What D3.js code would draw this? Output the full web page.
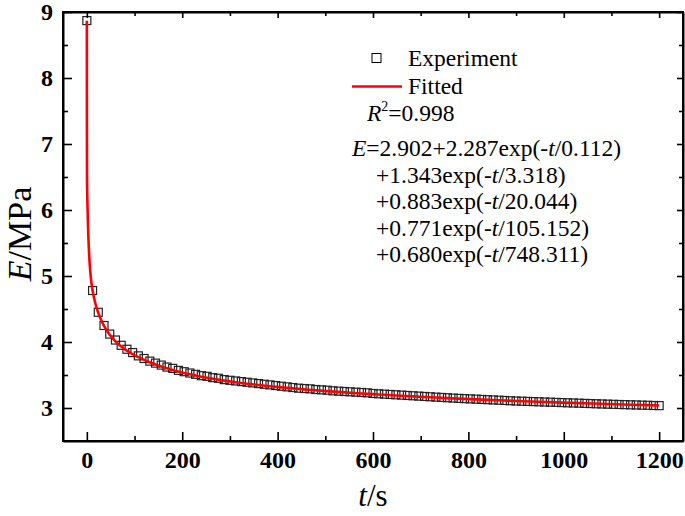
<!DOCTYPE html>
<html><head><meta charset="utf-8">
<script src="https://cdn.jsdelivr.net/npm/d3@7"></script>
<style>body{margin:0;background:#fff} svg{display:block}</style>
</head><body><svg id="c" width="685" height="516"></svg>
<script>
// ---- data ----
const expT = [0,12,24,36,48,60,72,84,96,108,120,132,144,156,168,180,192,204,216,228,240,252,264,276,288,300,312,324,336,348,360,372,384,396,408,420,432,444,456,468,480,492,504,516,528,540,552,564,576,588,600,612,624,636,648,660,672,684,696,708,720,732,744,756,768,780,792,804,816,828,840,852,864,876,888,900,912,924,936,948,960,972,984,996,1008,1020,1032,1044,1056,1068,1080,1092,1104,1116,1128,1140,1152,1164,1176,1188,1200];
const expE = [8.87,4.78,4.45,4.25,4.12,4.03,3.95,3.89,3.84,3.79,3.75,3.71,3.68,3.65,3.62,3.60,3.57,3.55,3.53,3.51,3.49,3.48,3.46,3.45,3.43,3.42,3.41,3.40,3.39,3.38,3.37,3.36,3.35,3.34,3.33,3.32,3.31,3.30,3.295,3.29,3.28,3.275,3.27,3.26,3.255,3.25,3.245,3.24,3.235,3.23,3.22,3.215,3.21,3.205,3.20,3.195,3.19,3.185,3.18,3.175,3.17,3.165,3.16,3.155,3.15,3.146,3.142,3.138,3.134,3.13,3.126,3.122,3.118,3.114,3.11,3.106,3.103,3.10,3.097,3.094,3.091,3.088,3.085,3.082,3.079,3.076,3.073,3.070,3.067,3.064,3.061,3.058,3.056,3.053,3.051,3.048,3.046,3.043,3.041,3.038,3.036];
const fitT = [0,0.1,0.2,0.4,0.7,1,1.5,2,3,4,5,6,8,10,12,15,20,24,30,36,48,60,72,84,96,108,120,132,144,156,168,180,192,204,216,228,240,264,288,312,336,360,384,408,432,456,480,504,540,576,612,648,684,720,756,792,828,864,900,948,996,1044,1092,1140,1200];
const fitE = [8.866,7.470,6.873,6.470,6.292,6.178,6.015,5.871,5.633,5.446,5.298,5.180,5.002,4.876,4.780,4.670,4.530,4.442,4.333,4.244,4.109,4.010,3.933,3.870,3.817,3.771,3.730,3.693,3.660,3.629,3.602,3.576,3.552,3.531,3.510,3.492,3.474,3.443,3.415,3.390,3.368,3.348,3.329,3.312,3.297,3.282,3.268,3.255,3.237,3.220,3.205,3.190,3.176,3.163,3.150,3.138,3.127,3.117,3.106,3.094,3.082,3.071,3.060,3.050,3.039];
const xTicks = [0,200,400,600,800,1000,1200];
const xMinorTicks = [100,300,500,700,900,1100];
const yTicks = [3,4,5,6,7,8,9];
const yMinorTicks = [3.5,4.5,5.5,6.5,7.5,8.5];
const legendLabels = ["Experiment","Fitted"];
const r2Text = "0.998";
const eqLines = [
  [["E","i"],["=2.902+2.287exp(-",""],["t","i"],["/0.112)",""]],
  [["+1.343exp(-",""],["t","i"],["/3.318)",""]],
  [["+0.883exp(-",""],["t","i"],["/20.044)",""]],
  [["+0.771exp(-",""],["t","i"],["/105.152)",""]],
  [["+0.680exp(-",""],["t","i"],["/748.311)",""]]
];

// ---- layout ----
const L = 63, R = 683, T = 12, B = 441;
const FONT = "'Liberation Serif','Times New Roman',Times,serif";
const svg = d3.select("#c");
const x = d3.scaleLinear().domain([-50,1250]).range([L,R]);
const y = d3.scaleLinear().domain([2.5,9]).range([B,T]);

// data: squares
svg.append("g").selectAll("rect").data(expT.map((t,i)=>[t,expE[i]])).join("rect")
  .attr("x",d=>x(d[0])-4).attr("y",d=>y(d[1])-4).attr("width",8).attr("height",8)
  .attr("fill","none").attr("stroke","#222").attr("stroke-width",1.2);

// fitted line
svg.append("path").datum(fitT.map((t,i)=>[t,fitE[i]]))
  .attr("d",d3.line().x(d=>x(d[0])).y(d=>y(d[1])).curve(d3.curveMonotoneX))
  .attr("fill","none").attr("stroke","#ff0000").attr("stroke-width",2.6);

// axes
function styleAxis(g){
  g.select(".domain").attr("stroke","#000").attr("stroke-width",2);
  g.selectAll(".tick line").attr("stroke","#000").attr("stroke-width",1.6);
  g.selectAll("text").attr("font-family",FONT).attr("font-size",24).attr("font-weight","bold").attr("fill","#000");
}
const gx = svg.append("g").attr("transform",`translate(0,${B})`)
  .call(d3.axisBottom(x).tickValues(xTicks).tickSize(-9).tickPadding(10).tickSizeOuter(0).tickFormat(d3.format("d")));
styleAxis(gx);
const gxm = svg.append("g").attr("transform",`translate(0,${B})`)
  .call(d3.axisBottom(x).tickValues(xMinorTicks).tickSize(-5).tickSizeOuter(0).tickFormat(""));
styleAxis(gxm); gxm.select(".domain").remove();
const gy = svg.append("g").attr("transform",`translate(${L},0)`)
  .call(d3.axisLeft(y).tickValues(yTicks).tickSize(-9).tickPadding(10).tickSizeOuter(0).tickFormat(d3.format("d")));
styleAxis(gy);
const gym = svg.append("g").attr("transform",`translate(${L},0)`)
  .call(d3.axisLeft(y).tickValues(yMinorTicks).tickSize(-5).tickSizeOuter(0).tickFormat(""));
styleAxis(gym); gym.select(".domain").remove();
// top & right mirrored
const gt = svg.append("g").attr("transform",`translate(0,${T})`)
  .call(d3.axisTop(x).tickValues(xTicks).tickSize(-6).tickSizeOuter(0).tickFormat(""));
styleAxis(gt);
const gtm = svg.append("g").attr("transform",`translate(0,${T})`)
  .call(d3.axisTop(x).tickValues(xMinorTicks).tickSize(-4).tickSizeOuter(0).tickFormat(""));
styleAxis(gtm); gtm.select(".domain").remove();
const gr = svg.append("g").attr("transform",`translate(${R},0)`)
  .call(d3.axisRight(y).tickValues(yTicks).tickSize(-6).tickSizeOuter(0).tickFormat(""));
styleAxis(gr);
const grm = svg.append("g").attr("transform",`translate(${R},0)`)
  .call(d3.axisRight(y).tickValues(yMinorTicks).tickSize(-4).tickSizeOuter(0).tickFormat(""));
styleAxis(grm); grm.select(".domain").remove();
svg.append("rect").attr("x",L).attr("y",T).attr("width",R-L).attr("height",B-T)
  .attr("fill","none").attr("stroke","#000").attr("stroke-width",2);

// axis titles
const xt = svg.append("text").attr("x",(L+R)/2).attr("y",506).attr("text-anchor","middle")
  .attr("font-family",FONT).attr("font-size",31);
xt.append("tspan").attr("font-style","italic").text("t");
xt.append("tspan").text("/s");
const yt = svg.append("text").attr("transform",`translate(31,234) rotate(-90)`).attr("text-anchor","middle")
  .attr("font-family",FONT).attr("font-size",34);
yt.append("tspan").attr("font-style","italic").text("E");
yt.append("tspan").text("/MPa");

// legend
const LF = 23.5;
svg.append("rect").attr("x",372).attr("y",53.5).attr("width",9).attr("height",9)
  .attr("fill","none").attr("stroke","#000").attr("stroke-width",1);
svg.append("line").attr("x1",352).attr("x2",402).attr("y1",86.5).attr("y2",86.5)
  .attr("stroke","#ff0000").attr("stroke-width",2.6);
legendLabels.forEach((s,i)=>{
  svg.append("text").attr("x",408).attr("y",[66,94][i]).attr("font-family",FONT).attr("font-size",LF).text(s);
});
const r2 = svg.append("text").attr("x",367).attr("y",121).attr("font-family",FONT).attr("font-size",LF);
r2.append("tspan").attr("font-style","italic").text("R");
r2.append("tspan").attr("font-size",14).attr("dy",-10).text("2");
r2.append("tspan").attr("dy",10).text("="+r2Text);
const eqX = [352,376,376,376,376], eqY = [156,183,209,236,262];
eqLines.forEach((parts,i)=>{
  const t = svg.append("text").attr("x",eqX[i]).attr("y",eqY[i]).attr("font-family",FONT).attr("font-size",LF);
  parts.forEach(p=>{ const ts=t.append("tspan").text(p[0]); if(p[1]==="i") ts.attr("font-style","italic"); });
});
</script></body></html>
